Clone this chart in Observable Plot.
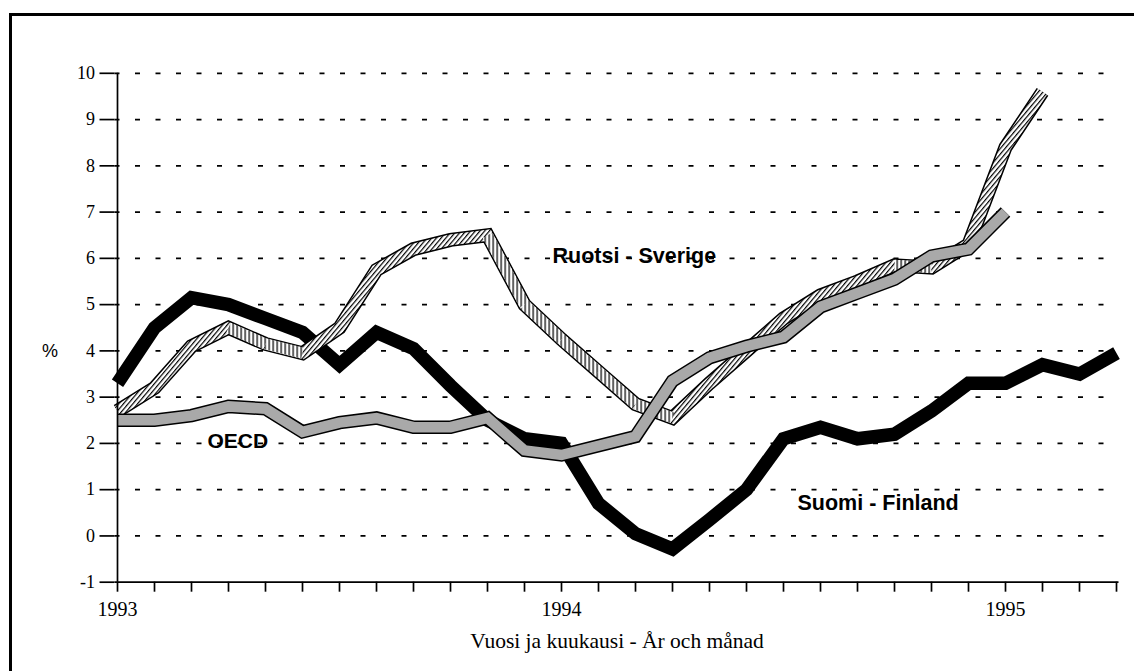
<!DOCTYPE html>
<html>
<head>
<meta charset="utf-8">
<script src="https://cdn.jsdelivr.net/npm/d3@7"></script>
<script src="https://cdn.jsdelivr.net/npm/@observablehq/plot@0.6"></script>
<style>
  body { margin: 0; background: #fff; }
  #wrap { position: relative; width: 1134px; height: 671px; overflow: hidden; background: #fff; }
  #border { position: absolute; left: 9px; top: 13px; width: 1200px; height: 700px;
            border-top: 3px solid #000; border-left: 3px solid #000; pointer-events: none; }
  #wrap svg { position: absolute; left: 0; top: 0; }
</style>
</head>
<body>
<div id="wrap"><div id="border"></div></div>
<script>
// Months (category axis, Jan 1993 – Apr 1995)
const months = [
  "1993-01","1993-02","1993-03","1993-04","1993-05","1993-06","1993-07","1993-08","1993-09","1993-10","1993-11","1993-12",
  "1994-01","1994-02","1994-03","1994-04","1994-05","1994-06","1994-07","1994-08","1994-09","1994-10","1994-11","1994-12",
  "1995-01","1995-02","1995-03","1995-04"
];

// Suomi - Finland (thick black line)
const finland = [3.3, 4.5, 5.15, 5.0, 4.7, 4.4, 3.7, 4.4, 4.05, 3.25, 2.5, 2.1,
                 2.0, 0.7, 0.05, -0.28, 0.35, 1.0, 2.1, 2.35, 2.1, 2.2, 2.7, 3.3,
                 3.3, 3.7, 3.5, 3.95];

// Ruotsi - Sverige (hatched ribbon)
const sweden = [2.7, 3.2, 4.1, 4.5, 4.15, 3.95, 4.5, 5.75, 6.2, 6.4, 6.5, 5.0,
                4.25, 3.55, 2.85, 2.55, 3.3, 4.0, 4.7, 5.2, 5.5, 5.85, 5.8, 6.3,
                8.4, 9.6];

// OECD (stippled ribbon)
const oecd = [2.5, 2.5, 2.6, 2.8, 2.75, 2.25, 2.45, 2.55, 2.35, 2.35, 2.55, 1.85,
              1.75, 1.95, 2.15, 3.35, 3.85, 4.1, 4.3, 4.95, 5.25, 5.55, 6.05, 6.2,
              7.0];

const yTicks = [-1, 0, 1, 2, 3, 4, 5, 6, 7, 8, 9, 10];

// Series labels placed in data coordinates
const labelSweden = {month: "1994-01", value: 6.04, text: "Ruotsi - Sverige"};
const labelOecd   = {month: "1993-03", value: 2.05, text: "OECD"};
const labelFinland = {month: "1994-07", value: 0.72, text: "Suomi - Finland"};

const yAxisTitle = "%";
const xAxisTitle = "Vuosi ja kuukausi - År och månad";

// ---- build tables ----
const rows = (arr) => arr.map((v, i) => ({month: months[i], value: v, i}));
const finRows = rows(finland);
const sweRows = rows(sweden);
const oecdRows = rows(oecd);
// falling segments of the Swedish ribbon are shaded differently
const sweFalling = [];
sweden.forEach((v, i) => {
  if (i + 1 < sweden.length && sweden[i + 1] < v) {
    sweFalling.push({month: months[i], value: v, seg: i});
    sweFalling.push({month: months[i + 1], value: sweden[i + 1], seg: i});
  }
});

const sans = "'Liberation Sans', Arial, Helvetica, sans-serif";
const serif = "'Liberation Serif', 'Times New Roman', serif";
const lineStyle = {strokeLinejoin: "miter", strokeMiterlimit: 3, strokeLinecap: "butt"};

const plot = Plot.plot({
  width: 1134,
  height: 671,
  marginLeft: 114.5,
  marginRight: 15.5,
  marginTop: 72.8,
  marginBottom: 89.3,
  style: {fontFamily: serif, fontSize: "18px", color: "#000", background: "transparent"},
  x: {type: "point", domain: months, padding: 0},
  y: {domain: [-1, 10]},
  marks: [
    // dashed gridlines
    Plot.ruleY(yTicks.filter(d => d >= 0), {stroke: "#000", strokeWidth: 1.7, strokeDasharray: "5 15.5"}),
    // Finland
    Plot.line(finRows, {x: "month", y: "value", stroke: "#000", strokeWidth: 13.5, ...lineStyle}),
    // Sweden ribbon
    Plot.line(sweRows, {x: "month", y: "value", stroke: "#000", strokeWidth: 14, ...lineStyle}),
    Plot.line(sweRows, {x: "month", y: "value", stroke: "url(#hatchDiag)", strokeWidth: 11, ...lineStyle}),
    Plot.line(sweFalling, {x: "month", y: "value", z: "seg", stroke: "url(#hatchVert)", strokeWidth: 11, ...lineStyle}),
    // OECD ribbon
    Plot.line(oecdRows, {x: "month", y: "value", stroke: "#000", strokeWidth: 13.5, ...lineStyle}),
    Plot.line(oecdRows, {x: "month", y: "value", stroke: "url(#stipple)", strokeWidth: 10.5, ...lineStyle}),
    // axes
    Plot.ruleY([-1], {stroke: "#000", strokeWidth: 1.7}),
    Plot.ruleX([months[0]], {stroke: "#000", strokeWidth: 1.7}),
    Plot.axisY(yTicks, {tickSize: 15, tickPadding: 5, fontSize: 18, strokeWidth: 1.7,
      tickFormat: d => String(d), label: null}),
    Plot.axisX(months, {tickSize: 10, tickPadding: 10, fontSize: 20, strokeWidth: 1.7,
      tickFormat: m => m.endsWith("-01") ? m.slice(0, 4) : "", label: null}),
    // series labels
    Plot.text([labelSweden], {x: "month", y: "value", text: "text", textAnchor: "start", dx: -9,
      fontFamily: sans, fontWeight: "bold", fontSize: 21.5, fill: "#000"}),
    Plot.text([labelOecd], {x: "month", y: "value", text: "text", textAnchor: "start", dx: 16,
      fontFamily: sans, fontWeight: "bold", fontSize: 21, fill: "#000"}),
    Plot.text([labelFinland], {x: "month", y: "value", text: "text", textAnchor: "start", dx: 14,
      fontFamily: sans, fontWeight: "bold", fontSize: 21.5, fill: "#000"}),
    // axis titles
    Plot.text([yAxisTitle], {frameAnchor: "left", dx: -73, dy: 23, fontFamily: sans, fontSize: 18, fill: "#000"}),
    Plot.text([xAxisTitle], {frameAnchor: "bottom", dy: 66, fontFamily: serif, fontSize: 21.5, fill: "#000"})
  ]
});

d3.select(plot).insert("defs", ":first-child").html(`
  <pattern id="hatchDiag" patternUnits="userSpaceOnUse" width="3.6" height="3.6" patternTransform="rotate(40)">
    <rect width="3.6" height="3.6" fill="#fff"/>
    <line x1="0.6" y1="0" x2="0.6" y2="3.6" stroke="#000" stroke-width="1.2"/>
  </pattern>
  <pattern id="hatchVert" patternUnits="userSpaceOnUse" width="4" height="4">
    <rect width="4" height="4" fill="#fff"/>
    <line x1="0.6" y1="0" x2="0.6" y2="4" stroke="#000" stroke-width="1.3"/>
  </pattern>
  <pattern id="stipple" patternUnits="userSpaceOnUse" width="2" height="2">
    <rect width="2" height="2" fill="#dcdcdc"/>
    <rect x="0" y="0" width="1" height="1" fill="#111"/>
  </pattern>
`);

document.getElementById("wrap").appendChild(plot);
</script>
</body>
</html>
